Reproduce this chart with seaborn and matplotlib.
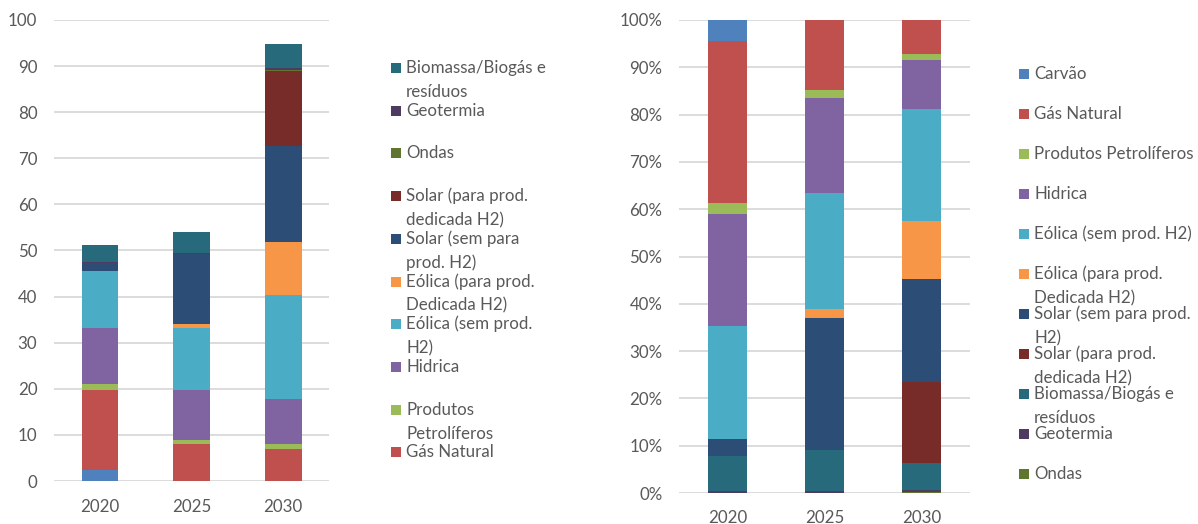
import textwrap

import matplotlib
matplotlib.use("Agg")
import matplotlib.pyplot as plt
from matplotlib.patches import Rectangle
from matplotlib.ticker import PercentFormatter
import numpy as np
import pandas as pd
import seaborn as sns

# ---- data -------------------------------------------------------------
years = ["2020", "2025", "2030"]

sources = [
    "Carvão", "Gás Natural", "Produtos Petrolíferos", "Hidrica",
    "Eólica (sem prod. H2)", "Eólica (para prod. Dedicada H2)",
    "Solar (sem para prod. H2)", "Solar (para prod. dedicada H2)",
    "Biomassa/Biogás e resíduos", "Geotermia", "Ondas",
]

carvao = [2.3, 0.0, 0.0]
gas_natural = [17.5, 8.0, 6.9]
produtos_petroliferos = [1.25, 0.9, 1.05]
hidrica = [12.1, 10.9, 9.9]
eolica_sem_h2 = [12.3, 13.3, 22.4]
eolica_para_h2 = [0.0, 1.0, 11.7]
solar_sem_h2 = [1.8, 15.1, 20.7]
solar_para_h2 = [0.0, 0.0, 16.2]
biomassa = [3.8, 4.7, 5.3]
geotermia = [0.2, 0.2, 0.35]
ondas = [0.0, 0.0, 0.3]

series = [carvao, gas_natural, produtos_petroliferos, hidrica, eolica_sem_h2,
          eolica_para_h2, solar_sem_h2, solar_para_h2, biomassa, geotermia, ondas]

colors = ["#4F81BD", "#C0504D", "#9BBB59", "#8064A2", "#4BACC6", "#F79646",
          "#2C4D75", "#772C2A", "#276A7C", "#4D3B62", "#5F7530"]
palette = dict(zip(sources, colors))

# stacking order, listed top to bottom (first hue level is drawn on top)
order_abs = ["Biomassa/Biogás e resíduos", "Geotermia", "Ondas",
             "Solar (para prod. dedicada H2)", "Solar (sem para prod. H2)",
             "Eólica (para prod. Dedicada H2)", "Eólica (sem prod. H2)",
             "Hidrica", "Produtos Petrolíferos", "Gás Natural", "Carvão"]
order_pct = ["Carvão", "Gás Natural", "Produtos Petrolíferos", "Hidrica",
             "Eólica (sem prod. H2)", "Eólica (para prod. Dedicada H2)",
             "Solar (sem para prod. H2)", "Solar (para prod. dedicada H2)",
             "Biomassa/Biogás e resíduos", "Geotermia", "Ondas"]

rows = []
for src, vals in zip(sources, series):
    for i, v in enumerate(vals):
        rows.append({"pos": i, "year": years[i], "source": src, "value": v})
df = pd.DataFrame(rows)

# ---- styling ----------------------------------------------------------
sns.set_theme(style="white")
plt.rcParams["font.family"] = ["Lato", "DejaVu Sans"]
TXT = "#595959"
GRID = "#D9D9D9"
FS = 12.2

W, H = 1198, 524
fig = plt.figure(figsize=(W / 100, H / 100), dpi=100)


def px_axes(x0, y0, x1, y1):
    return fig.add_axes([x0 / W, 1 - y1 / H, (x1 - x0) / W, (y1 - y0) / H])


def style_axes(ax, xpad):
    ax.set_xlim(-0.5, 2.5)
    ax.set_xticks(range(len(years)))
    ax.set_xticklabels(years)
    ax.set_xlabel("")
    ax.set_ylabel("")
    for s in ax.spines.values():
        s.set_visible(False)
    ax.yaxis.grid(True, color=GRID, linewidth=1.3)
    ax.xaxis.grid(False)
    ax.set_axisbelow(True)
    ax.tick_params(axis="y", length=0, pad=12, labelsize=FS, labelcolor=TXT)
    ax.tick_params(axis="x", length=0, pad=xpad, labelsize=FS, labelcolor=TXT)


# left: absolute values
ax1 = px_axes(54, 20, 329, 481)
sns.histplot(data=df, x="pos", hue="source", weights="value",
             hue_order=order_abs, palette=palette, multiple="stack",
             discrete=True, shrink=0.4, alpha=1, linewidth=0,
             legend=False, ax=ax1)
ax1.set_ylim(0, 100)
ax1.set_yticks(np.arange(0, 101, 10))
style_axes(ax1, 13)

# right: shares of the yearly total
ax2 = px_axes(679, 20, 970, 493)
sns.histplot(data=df, x="pos", hue="source", weights="value",
             hue_order=order_pct, palette=palette, multiple="fill",
             discrete=True, shrink=0.4, alpha=1, linewidth=0,
             legend=False, ax=ax2)
ax2.set_ylim(0, 1)
ax2.set_yticks(np.arange(0, 1.01, 0.1))
ax2.yaxis.set_major_formatter(PercentFormatter(1.0, decimals=0))
style_axes(ax2, 12)


# ---- legends ----------------------------------------------------------
def draw_legend(labels, x_marker, y_first, pitch, wrap):
    for i, lab in enumerate(labels):
        yc = y_first + i * pitch
        fig.patches.append(Rectangle((x_marker / W, 1 - (yc + 5) / H),
                                     10 / W, 10 / H,
                                     transform=fig.transFigure,
                                     facecolor=palette[lab], edgecolor="none"))
        for j, line in enumerate(textwrap.wrap(lab, wrap)):
            fig.text((x_marker + 15) / W, 1 - (yc + 24 * j) / H, line,
                     va="center", ha="left", fontsize=FS, color=TXT)


draw_legend([s for s in order_abs if s != "Carvão"], 391, 68, 42.7, 18)
draw_legend(order_pct, 1019, 74, 40, 21)

fig.savefig("out.png", dpi=100)
